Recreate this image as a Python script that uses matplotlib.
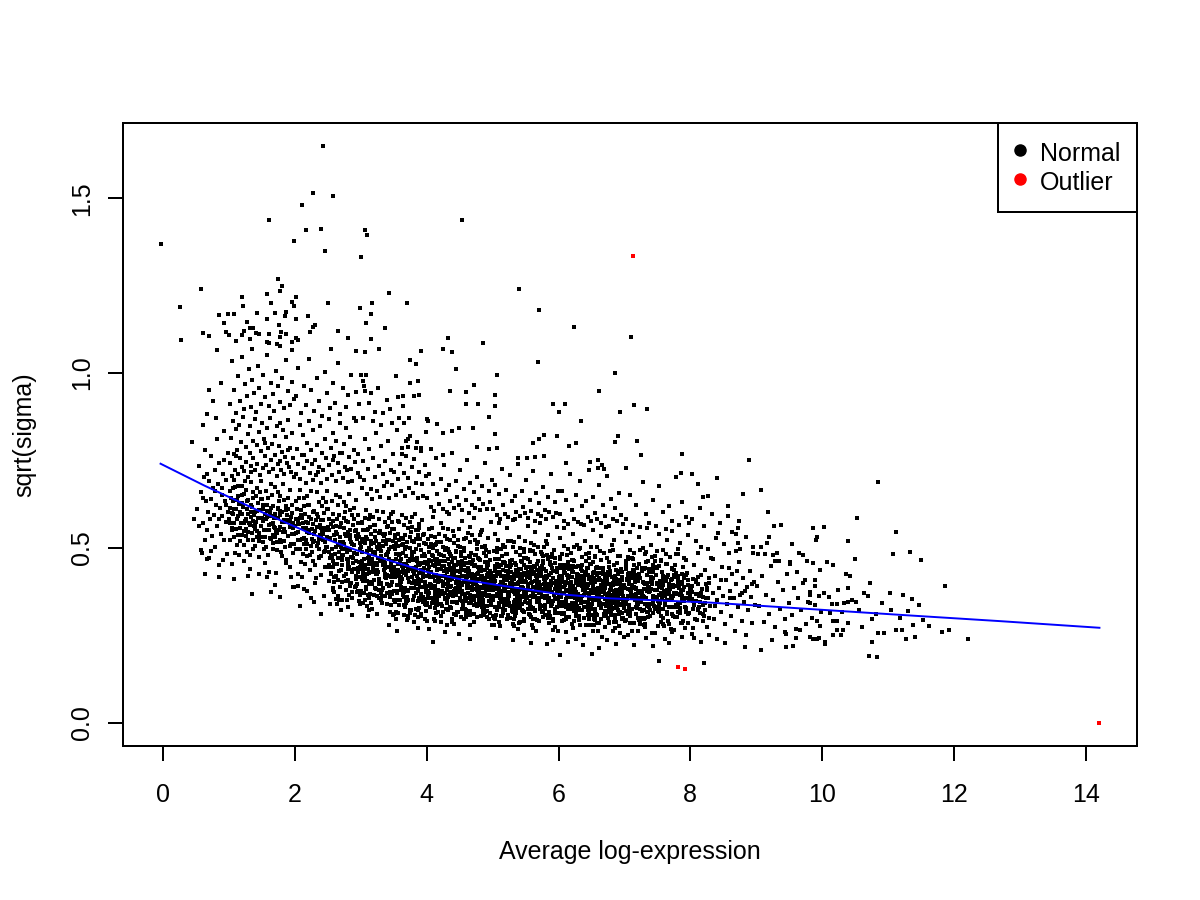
import numpy as np
import matplotlib
matplotlib.use("Agg")
import matplotlib.pyplot as plt
from matplotlib.lines import Line2D

plt.rcParams['font.family'] = ['Liberation Sans', 'DejaVu Sans']

# ---------------- data (x = average log-expression, y = sqrt(sigma)) ----------------
# individually read sparse points, upper area
high_sparse = """
2.43,1.649 2.28,1.516 2.58,1.507 2.11,1.481 1.60,1.437 2.16,1.410 2.40,1.413 3.07,1.410 3.10,1.396 1.99,1.379
-0.04,1.368 2.45,1.350 3.00,1.333 1.75,1.268 1.81,1.249 0.57,1.239 1.78,1.236 3.43,1.230 1.57,1.227 1.19,1.218
2.01,1.217 1.96,1.202 1.63,1.199 2.50,1.199 3.17,1.200 3.70,1.200 0.26,1.190 1.21,1.191 1.99,1.193 2.99,1.185
0.85,1.165 0.99,1.170 1.07,1.170 1.43,1.173 1.69,1.171 1.86,1.175 1.85,1.162 2.20,1.164 2.02,1.155 1.57,1.156
3.16,1.170 0.93,1.143 1.27,1.147 1.76,1.137 2.31,1.137 2.28,1.132 3.08,1.143 3.37,1.130 1.31,1.130 1.37,1.129
0.60,1.116 0.69,1.105 0.96,1.118 1.00,1.108 1.22,1.120 1.19,1.108 1.41,1.116 1.45,1.113 1.60,1.111 1.79,1.118
1.86,1.113 1.78,1.104 2.23,1.118 2.66,1.121 0.27,1.096 1.11,1.091 1.32,1.098 1.58,1.089 1.61,1.085 1.73,1.082
1.78,1.077 1.95,1.089 2.02,1.100 2.05,1.096 2.81,1.100 3.16,1.098 0.82,1.067 1.35,1.069 1.96,1.067 2.54,1.070
3.28,1.069 2.92,1.062 3.07,1.060 3.91,1.064
4.53,1.438 5.40,1.239 5.71,1.179 6.24,1.132 7.10,1.104 4.33,1.100 4.86,1.085 4.24,1.070 4.39,1.059
"""

mid_sparse = """
6.86,1.000 6.62,.950 7.15,.909 7.35,.897 6.94,.888 6.34,.864 6.90,.819 6.85,.802 7.19,.807 7.25,.766
7.88,.770 8.89,.753 6.48,.746 6.60,.751 6.60,.730 6.69,.727 7.03,.730
3.75,1.037 3.84,1.025 5.69,1.033 4.45,1.013 5.06,.996 3.74,.971 3.87,.977 4.72,.965 4.36,.950 4.59,.947
5.03,.938 3.64,.934 3.81,.934 3.88,.936 3.64,.907 4.60,.911 4.78,.911 5.03,.906 5.91,.911 6.10,.911
6.01,.889 4.95,.874 3.73,.873 3.66,.858 4.00,.869 4.02,.863 4.15,.855 3.99,.832 4.24,.830 4.38,.834
4.49,.844 4.70,.844 5.03,.826 3.72,.813 3.69,.807 5.78,.822 5.98,.820 5.70,.811 5.62,.801 6.27,.801
3.72,.788 3.84,.787 3.92,.787 4.06,.782 4.77,.788 4.94,.783 5.07,.785 3.63,.770 4.25,.765 6.16,.793
5.39,.758 5.52,.758 5.65,.759 5.78,.762 7.86,.714 8.02,.713 8.12,.683 8.40,.701
"""

right_tail = """
9.07,.665 8.80,.653 8.27,.650 8.19,.646 10.85,.689 9.18,.604 10.53,.587 8.57,.592 8.74,.576 9.27,.564
9.38,.565 9.86,.556 10.03,.559 11.12,.546 9.93,.532 9.91,.523 10.39,.520 9.19,.532 9.17,.515 8.84,.532
8.69,.540 8.72,.556 8.73,.513 8.95,.503 8.75,.498 11.07,.483 11.33,.489 11.50,.467 9.65,.485 9.71,.481
8.95,.485 9.03,.484 9.14,.482 9.25,.481 10.50,.469 9.28,.464 9.34,.463 9.51,.459 9.51,.453 9.86,.456
10.08,.461 10.16,.451 9.62,.432 9.97,.438 10.37,.427 10.42,.420 11.87,.392 11.03,.370 11.23,.367 10.73,.401
10.69,.364 10.39,.385 9.90,.410 9.90,.390 9.74,.409 10.10,.359 9.82,.366 9.82,.342 10.15,.340 10.22,.339
10.33,.344 10.39,.346 10.52,.345 11.47,.337 11.30,.321 10.76,.298 10.61,.275 10.40,.287 11.53,.293 10.17,.291
10.23,.292 10.32,.266 10.23,.267 10.29,.251 10.17,.252 9.97,.278 9.95,.242 10.05,.231 10.05,.225 9.81,.247
9.86,.239 9.92,.241 10.76,.230 10.85,.258 10.94,.256 11.12,.266 11.21,.266 11.38,.279 11.27,.240 11.41,.245
11.82,.261 12.22,.239 10.71,.190 10.83,.188 9.66,.266 9.46,.254 9.61,.242 9.45,.218 9.56,.221 9.07,.209
8.21,.170 8.83,.216
10.03,.372 10.12,.314 10.24,.381 10.31,.318 10.45,.352 10.56,.322 10.64,.371 10.82,.312 10.91,.344 11.05,.322
11.18,.301 11.36,.355 11.62,.278 11.92,.265
"""

low_edge = """
7.53,.178 6.02,.194 6.51,.197
0.85,.416 1.08,.412 1.28,.419 1.46,.426 1.57,.416 1.35,.368 1.64,.374 1.78,.359 2.08,.333 2.40,.310
2.87,.309 3.11,.307 3.43,.279 3.55,.263 4.10,.231 4.03,.269 3.87,.272 4.65,.241 4.49,.253 4.28,.260
0.59,.487 0.66,.469 0.91,.466 2.70,.322 3.13,.323 3.49,.308 3.70,.294 2.29,.347 2.63,.353 2.14,.382
1.94,.417 1.69,.394 1.97,.389
"""

cloud_0_1 = """
0.52,.612 0.55,.734 0.57,.493 0.58,.661 0.60,.853 0.61,.571 0.62,.702 0.63,.524 0.64,.781 0.65,.633
0.66,.552 0.67,.884 0.68,.604 0.69,.472 0.70,.693 0.71,.583 0.72,.762 0.73,.641 0.74,.533 0.75,.921
0.76,.672 0.77,.594 0.78,.502 0.79,.724 0.80,.623 0.81,.812 0.82,.563 0.83,.684 0.84,.452 0.85,.743
0.86,.614 0.87,.541 0.88,.972 0.89,.652 0.90,.591 0.91,.713 0.92,.522 0.93,.834 0.94,.633 0.95,.574
0.96,.694 0.97,.483 0.98,.771 0.99,.604 0.60,.644 0.66,.712 0.72,.491 0.78,.663 0.84,.582 0.90,.672
0.96,.623 0.54,.562 0.70,.951 0.80,.873 0.92,.752 0.63,.425 0.47,.583 0.43,.802
"""

cloud_1_2 = """
1.02,.912 1.05,1.034 1.08,.953 1.11,.886 1.13,.992 1.16,.921 1.19,1.047 1.22,.897 1.24,.968 1.27,.935
1.30,1.012 1.33,.902 1.35,.981 1.38,.944 1.41,.889 1.44,1.021 1.46,.958 1.49,.913 1.52,.996 1.55,.931
1.57,1.053 1.60,.905 1.63,.973 1.66,.941 1.68,.892 1.71,1.006 1.74,.962 1.77,.918 1.80,.985 1.83,.899
1.86,1.038 1.89,.949 1.92,.909 1.95,.976 1.98,.926
1.01,.742 1.03,.815 1.04,.706 1.06,.862 1.07,.768 1.09,.724 1.10,.839 1.12,.781 1.14,.712 1.15,.853
1.17,.756 1.18,.802 1.20,.731 1.21,.874 1.23,.719 1.25,.789 1.26,.746 1.28,.826 1.29,.703 1.31,.771
1.32,.848 1.34,.735 1.36,.807 1.37,.758 1.39,.869 1.40,.722 1.42,.794 1.43,.741 1.45,.831 1.47,.709
1.48,.776 1.50,.857 1.51,.728 1.53,.812 1.54,.763 1.56,.737 1.58,.843 1.59,.785 1.61,.716 1.62,.872
1.64,.752 1.65,.798 1.67,.727 1.69,.821 1.70,.767 1.72,.705 1.73,.849 1.75,.739 1.76,.792 1.78,.858
1.79,.723 1.81,.774 1.82,.836 1.84,.711 1.85,.761 1.87,.817 1.88,.744 1.90,.866 1.91,.731 1.93,.787
1.94,.718 1.96,.829 1.97,.757 1.99,.703 1.11,.764 1.33,.718 1.55,.801 1.77,.749 1.89,.779
1.00,.583 1.03,.642 1.07,.531 1.10,.612 1.13,.677 1.17,.556 1.20,.598 1.23,.463 1.27,.634 1.30,.571
1.33,.689 1.37,.522 1.40,.604 1.43,.548 1.47,.661 1.50,.587 1.53,.497 1.57,.623 1.60,.566 1.63,.683
1.67,.514 1.70,.597 1.73,.542 1.77,.648 1.80,.476 1.83,.579 1.87,.621 1.90,.535 1.93,.667 1.97,.558
1.02,.662 1.05,.551 1.08,.694 1.12,.508 1.15,.627 1.18,.572 1.22,.653 1.25,.534 1.28,.596 1.32,.441
1.35,.618 1.38,.563 1.42,.672 1.45,.519 1.48,.641 1.52,.578 1.55,.456 1.58,.606 1.62,.529 1.65,.652
1.68,.587 1.72,.493 1.75,.615 1.78,.561 1.82,.684 1.85,.502 1.88,.594 1.92,.447 1.95,.623 1.98,.541
1.01,.524 1.04,.601 1.06,.672 1.09,.487 1.12,.583 1.14,.648 1.19,.538 1.21,.616 1.24,.692 1.26,.553
1.29,.636 1.31,.479 1.34,.589 1.36,.661 1.39,.505 1.41,.573 1.44,.628 1.46,.543 1.49,.691 1.51,.517
1.54,.598 1.56,.664 1.59,.481 1.61,.552 1.64,.613 1.66,.537 1.69,.674 1.71,.428 1.74,.586 1.76,.633
1.79,.517 1.81,.602 1.84,.553 1.86,.466 1.89,.642 1.91,.577 1.94,.512 1.96,.601 1.99,.389 1.02,.571
1.05,.453 1.09,.636 1.11,.554 1.16,.603 1.19,.677 1.23,.509 1.26,.582 1.29,.547 1.34,.624 1.36,.498
1.40,.566 1.43,.607 1.46,.474 1.50,.639 1.53,.552 1.57,.588 1.60,.431 1.64,.569 1.67,.621 1.71,.546
1.74,.659 1.77,.524 1.80,.573 1.84,.638 1.87,.458 1.90,.611 1.93,.561 1.97,.487 1.06,.597 1.13,.538
1.20,.651 1.27,.489 1.35,.543 1.41,.649 1.48,.531 1.56,.502 1.63,.592 1.70,.531 1.78,.606 1.85,.546
1.92,.579 1.08,.612 1.22,.572 1.38,.594 1.52,.612 1.68,.559 1.83,.521 1.96,.568 1.15,.481 1.45,.586
"""

cloud_2_3 = """
2.02,.934 2.05,1.015 2.09,.887 2.13,.962 2.17,.908 2.21,1.041 2.25,.951 2.29,.893 2.33,.987 2.37,.921
2.41,.876 2.45,1.003 2.49,.942 2.53,.899 2.57,.971 2.61,.915 2.65,1.028 2.69,.884 2.73,.956 2.77,.903
2.81,.938 2.85,.995 2.89,.872 2.93,.947 2.97,.913 3.00,.994 3.03,.978 3.05,.963 3.07,.949
2.01,.712 2.03,.784 2.05,.741 2.07,.853 2.08,.698 2.10,.766 2.12,.823 2.14,.729 2.16,.687 2.18,.801
2.19,.748 2.21,.862 2.23,.715 2.25,.779 2.27,.694 2.28,.836 2.30,.752 2.32,.708 2.34,.794 2.36,.733
2.38,.849 2.39,.686 2.41,.771 2.43,.722 2.45,.813 2.47,.757 2.49,.696 2.51,.868 2.52,.737 2.54,.785
2.56,.709 2.58,.829 2.60,.762 2.62,.691 2.63,.806 2.65,.744 2.67,.718 2.69,.857 2.71,.773 2.73,.701
2.74,.796 2.76,.731 2.78,.842 2.80,.689 2.82,.759 2.84,.817 2.85,.726 2.87,.693 2.89,.781 2.91,.747
2.93,.864 2.95,.714 2.96,.769 2.98,.704 2.13,.767 2.35,.716 2.57,.752 2.79,.724 2.26,.739 2.68,.773
2.00,.563 2.03,.612 2.07,.498 2.10,.587 2.13,.642 2.17,.524 2.20,.571 2.23,.436 2.27,.603 2.30,.548
2.33,.661 2.37,.497 2.40,.579 2.43,.523 2.47,.631 2.50,.561 2.53,.472 2.57,.597 2.60,.538 2.63,.652
2.67,.489 2.70,.571 2.73,.516 2.77,.619 2.80,.452 2.83,.552 2.87,.593 2.90,.508 2.93,.637 2.97,.531
2.02,.634 2.05,.524 2.08,.667 2.12,.483 2.15,.598 2.18,.545 2.22,.623 2.25,.507 2.28,.568 2.32,.415
2.35,.589 2.38,.536 2.42,.643 2.45,.491 2.48,.612 2.52,.551 2.55,.429 2.58,.578 2.62,.502 2.65,.624
2.68,.559 2.72,.466 2.75,.587 2.78,.533 2.82,.655 2.85,.474 2.88,.566 2.92,.421 2.95,.594 2.98,.513
2.01,.497 2.04,.574 2.06,.643 2.09,.461 2.12,.556 2.14,.619 2.19,.511 2.21,.588 2.24,.664 2.26,.526
2.29,.607 2.31,.452 2.34,.561 2.36,.632 2.39,.478 2.41,.545 2.44,.599 2.46,.516 2.49,.662 2.51,.489
2.54,.569 2.56,.635 2.59,.454 2.61,.524 2.64,.584 2.66,.509 2.69,.645 2.71,.402 2.74,.557 2.76,.603
2.79,.489 2.81,.573 2.84,.525 2.86,.438 2.89,.613 2.91,.548 2.94,.484 2.96,.572 2.99,.366 2.02,.544
2.05,.426 2.09,.608 2.11,.527 2.16,.575 2.19,.648 2.23,.481 2.26,.554 2.29,.519 2.34,.596 2.36,.471
2.40,.538 2.43,.579 2.46,.447 2.50,.611 2.53,.525 2.57,.561 2.60,.404 2.64,.541 2.67,.593 2.71,.518
2.74,.631 2.77,.496 2.80,.545 2.84,.609 2.87,.431 2.90,.583 2.93,.533 2.97,.459 2.06,.569 2.13,.511
2.20,.623 2.27,.462 2.35,.515 2.41,.621 2.48,.503 2.56,.474 2.63,.564 2.70,.503 2.78,.578 2.85,.518
2.92,.551 2.08,.585 2.22,.544 2.38,.566 2.52,.584 2.68,.531 2.83,.493 2.96,.540 2.15,.453 2.45,.558
2.04,.392 2.18,.378 2.31,.401 2.44,.364 2.58,.386 2.72,.352 2.86,.374 2.99,.341 2.11,.417 2.25,.358
2.39,.422 2.53,.339 2.66,.409 2.80,.331 2.94,.398
"""

cloud_3_4 = """
3.04,.871 3.12,.915 3.19,.862 3.26,.958 3.33,.887 3.40,.924 3.47,.856 3.53,.991 3.58,.873 3.08,.996
3.16,.943 3.30,.852 3.44,.898 3.56,.931 3.22,.890
3.01,.672 3.03,.748 3.05,.694 3.07,.811 3.09,.653 3.11,.727 3.13,.782 3.15,.668 3.17,.641 3.19,.756
3.21,.703 3.23,.829 3.25,.662 3.27,.734 3.29,.647 3.31,.791 3.33,.712 3.35,.676 3.37,.749 3.39,.689
3.41,.806 3.43,.644 3.45,.723 3.47,.681 3.49,.768 3.51,.718 3.53,.652 3.55,.838 3.57,.697 3.59,.741
3.61,.663 3.63,.787 3.65,.714 3.67,.648 3.69,.762 3.71,.699 3.73,.671 3.75,.819 3.77,.731 3.79,.657
3.81,.754 3.83,.686 3.85,.802 3.87,.643 3.89,.717 3.91,.778 3.93,.682 3.95,.649 3.97,.738 3.99,.706
3.00,.503 3.03,.552 3.07,.441 3.10,.527 3.13,.582 3.17,.468 3.20,.514 3.23,.384 3.27,.544 3.30,.491
3.33,.603 3.37,.442 3.40,.522 3.43,.468 3.47,.573 3.50,.505 3.53,.419 3.57,.541 3.60,.483 3.63,.594
3.67,.435 3.70,.516 3.73,.462 3.77,.561 3.80,.401 3.83,.496 3.87,.536 3.90,.454 3.93,.579 3.97,.476
3.02,.575 3.05,.468 3.08,.608 3.12,.429 3.15,.541 3.18,.489 3.22,.566 3.25,.452 3.28,.512 3.32,.363
3.35,.533 3.38,.481 3.42,.585 3.45,.437 3.48,.555 3.52,.496 3.55,.377 3.58,.522 3.62,.448 3.65,.566
3.68,.503 3.72,.413 3.75,.531 3.78,.478 3.82,.597 3.85,.421 3.88,.510 3.92,.369 3.95,.538 3.98,.458
3.01,.441 3.04,.517 3.06,.585 3.09,.406 3.12,.499 3.14,.561 3.19,.456 3.21,.531 3.24,.606 3.26,.471
3.29,.550 3.31,.398 3.34,.505 3.36,.574 3.39,.424 3.41,.489 3.44,.542 3.46,.461 3.49,.604 3.51,.434
3.54,.513 3.56,.577 3.59,.399 3.61,.468 3.64,.527 3.66,.454 3.69,.587 3.71,.352 3.74,.501 3.76,.546
3.79,.434 3.81,.516 3.84,.469 3.86,.384 3.89,.556 3.91,.493 3.94,.429 3.96,.515 3.99,.321 3.02,.488
3.05,.372 3.09,.551 3.11,.472 3.16,.519 3.19,.589 3.23,.426 3.26,.498 3.29,.463 3.34,.539 3.36,.416
3.40,.482 3.43,.522 3.46,.393 3.50,.554 3.53,.469 3.57,.505 3.60,.352 3.64,.485 3.67,.536 3.71,.463
3.74,.573 3.77,.441 3.80,.489 3.84,.552 3.87,.377 3.90,.526 3.93,.478 3.97,.404 3.06,.513 3.13,.455
3.20,.566 3.27,.407 3.35,.459 3.41,.563 3.48,.447 3.56,.419 3.63,.508 3.70,.448 3.78,.521 3.85,.462
3.92,.495 3.08,.529 3.22,.489 3.38,.511 3.52,.528 3.68,.476 3.83,.438 3.96,.484 3.15,.398 3.45,.502
3.03,.342 3.17,.327 3.31,.351 3.44,.318 3.58,.336 3.72,.306 3.86,.324 3.98,.296 3.11,.366 3.25,.311
3.39,.372 3.53,.298 3.66,.359 3.80,.289 3.94,.347
"""

cloud_4_5 = """
4.01,.642 4.04,.711 4.06,.618 4.09,.683 4.11,.607 4.14,.756 4.16,.654 4.19,.627 4.21,.697 4.24,.612
4.26,.738 4.29,.665 4.31,.604 4.34,.679 4.36,.633 4.39,.771 4.41,.615 4.44,.692 4.46,.646 4.49,.623
4.51,.724 4.54,.609 4.56,.668 4.59,.637 4.61,.751 4.64,.601 4.66,.686 4.69,.622 4.71,.659 4.74,.614
4.76,.703 4.79,.639 4.81,.608 4.84,.677 4.86,.626 4.89,.742 4.91,.611 4.94,.662 4.96,.631 4.99,.694
4.00,.453 4.03,.502 4.07,.391 4.10,.477 4.13,.532 4.17,.418 4.20,.464 4.23,.334 4.27,.494 4.30,.441
4.33,.553 4.37,.392 4.40,.472 4.43,.418 4.47,.523 4.50,.455 4.53,.369 4.57,.491 4.60,.433 4.63,.544
4.67,.385 4.70,.466 4.73,.412 4.77,.511 4.80,.351 4.83,.446 4.87,.486 4.90,.404 4.93,.529 4.97,.426
4.02,.525 4.05,.418 4.08,.558 4.12,.379 4.15,.491 4.18,.439 4.22,.516 4.25,.402 4.28,.462 4.32,.323
4.35,.483 4.38,.431 4.42,.535 4.45,.387 4.48,.505 4.52,.446 4.55,.337 4.58,.472 4.62,.398 4.65,.516
4.68,.453 4.72,.363 4.75,.481 4.78,.428 4.82,.547 4.85,.371 4.88,.460 4.92,.319 4.95,.488 4.98,.408
4.01,.391 4.04,.467 4.06,.535 4.09,.356 4.12,.449 4.14,.511 4.19,.406 4.21,.481 4.24,.556 4.26,.421
4.29,.500 4.31,.348 4.34,.455 4.36,.524 4.39,.374 4.41,.439 4.44,.492 4.46,.411 4.49,.554 4.51,.384
4.54,.463 4.56,.527 4.59,.349 4.61,.418 4.64,.477 4.66,.404 4.69,.537 4.71,.312 4.74,.451 4.76,.496
4.79,.384 4.81,.466 4.84,.419 4.86,.334 4.89,.506 4.91,.443 4.94,.379 4.96,.465 4.99,.281 4.02,.438
4.05,.332 4.09,.501 4.11,.422 4.16,.469 4.19,.539 4.23,.376 4.26,.448 4.29,.413 4.34,.489 4.36,.366
4.40,.432 4.43,.472 4.46,.343 4.50,.504 4.53,.419 4.57,.455 4.60,.302 4.64,.435 4.67,.486 4.71,.413
4.74,.523 4.77,.391 4.80,.439 4.84,.502 4.87,.327 4.90,.476 4.93,.428 4.97,.354 4.06,.463 4.13,.405
4.20,.516 4.27,.357 4.35,.409 4.41,.513 4.48,.397 4.56,.369 4.63,.458 4.70,.398 4.78,.471 4.85,.412
4.92,.445 4.08,.479 4.22,.439 4.38,.461 4.52,.478 4.68,.426 4.83,.388 4.96,.434 4.15,.348 4.45,.452
4.03,.356 4.17,.379 4.31,.342 4.44,.365 4.58,.326 4.72,.351 4.86,.308 4.98,.337 4.11,.297 4.25,.368
4.39,.289 4.53,.349 4.66,.281 4.80,.362 4.94,.296 4.07,.418 4.21,.372 4.33,.401 4.47,.318 4.61,.386
4.75,.339 4.89,.371 4.99,.382 4.13,.329 4.42,.311
"""

cloud_5_6 = """
5.01,.612 5.04,.681 5.06,.594 5.09,.653 5.11,.583 5.14,.726 5.16,.624 5.19,.597 5.21,.667 5.24,.588
5.26,.708 5.29,.635 5.31,.581 5.34,.649 5.36,.603 5.39,.741 5.41,.591 5.44,.662 5.46,.616 5.49,.599
5.51,.694 5.54,.585 5.56,.638 5.59,.607 5.61,.721 5.64,.578 5.66,.656 5.69,.598 5.71,.629 5.74,.591
5.76,.673 5.79,.609 5.81,.584 5.84,.647 5.86,.602 5.89,.712 5.91,.588 5.94,.632 5.96,.601 5.99,.664
5.00,.421 5.03,.468 5.07,.362 5.10,.446 5.13,.497 5.17,.388 5.20,.433 5.23,.309 5.27,.462 5.30,.411
5.33,.517 5.37,.364 5.40,.441 5.43,.389 5.47,.489 5.50,.424 5.53,.342 5.57,.459 5.60,.403 5.63,.509
5.67,.357 5.70,.435 5.73,.383 5.77,.478 5.80,.326 5.83,.416 5.87,.454 5.90,.375 5.93,.494 5.97,.397
5.02,.491 5.05,.388 5.08,.523 5.12,.352 5.15,.459 5.18,.409 5.22,.483 5.25,.373 5.28,.431 5.32,.298
5.35,.451 5.38,.401 5.42,.501 5.45,.359 5.48,.472 5.52,.416 5.55,.312 5.58,.441 5.62,.369 5.65,.483
5.68,.422 5.72,.337 5.75,.449 5.78,.398 5.82,.512 5.85,.345 5.88,.429 5.92,.294 5.95,.456 5.98,.379
5.01,.364 5.04,.436 5.06,.501 5.09,.331 5.12,.419 5.14,.478 5.19,.378 5.21,.449 5.24,.521 5.26,.392
5.29,.467 5.31,.323 5.34,.425 5.36,.490 5.39,.347 5.41,.409 5.44,.459 5.46,.383 5.49,.519 5.51,.357
5.54,.432 5.56,.493 5.59,.325 5.61,.389 5.64,.445 5.66,.376 5.69,.503 5.71,.291 5.74,.421 5.76,.463
5.79,.357 5.81,.435 5.84,.391 5.86,.311 5.89,.473 5.91,.413 5.94,.353 5.96,.434 5.99,.262 5.02,.408
5.05,.309 5.09,.468 5.11,.393 5.16,.437 5.19,.504 5.23,.351 5.26,.418 5.29,.385 5.34,.457 5.36,.341
5.40,.403 5.43,.441 5.46,.319 5.50,.471 5.53,.391 5.57,.425 5.60,.281 5.64,.406 5.67,.454 5.71,.385
5.74,.489 5.77,.364 5.80,.409 5.84,.469 5.87,.305 5.90,.444 5.93,.399 5.97,.331 5.06,.432 5.13,.377
5.20,.482 5.27,.333 5.35,.381 5.41,.479 5.48,.371 5.56,.344 5.63,.427 5.70,.371 5.78,.439 5.85,.384
5.92,.415 5.08,.447 5.22,.409 5.38,.430 5.52,.446 5.68,.397 5.83,.362 5.96,.405 5.15,.325 5.45,.422
5.03,.331 5.17,.353 5.31,.318 5.44,.341 5.58,.304 5.72,.327 5.86,.287 5.98,.314 5.11,.276 5.25,.343
5.39,.268 5.53,.325 5.66,.262 5.80,.337 5.94,.275 5.07,.389 5.21,.346 5.33,.374 5.47,.296 5.61,.359
5.75,.316 5.89,.346 5.99,.356 5.13,.306 5.42,.289
5.05,.243 5.31,.236 5.58,.229 5.82,.225 5.47,.251 5.91,.238
"""

cloud_6_7 = """
6.02,.597 6.05,.664 6.08,.578 6.11,.638 6.14,.569 6.17,.712 6.20,.609 6.23,.583 6.26,.651 6.29,.574
6.32,.693 6.35,.619 6.38,.566 6.41,.635 6.44,.588 6.47,.724 6.50,.576 6.53,.647 6.56,.601 6.59,.584
6.62,.679 6.65,.571 6.68,.623 6.71,.592 6.74,.705 6.77,.563 6.80,.641 6.83,.584 6.86,.615 6.89,.577
6.92,.658 6.95,.594 6.98,.569 6.12,.744 6.66,.736
6.00,.404 6.03,.451 6.07,.345 6.10,.429 6.13,.480 6.17,.371 6.20,.416 6.23,.292 6.27,.445 6.30,.394
6.33,.500 6.37,.347 6.40,.424 6.43,.372 6.47,.472 6.50,.407 6.53,.325 6.57,.442 6.60,.386 6.63,.492
6.67,.340 6.70,.418 6.73,.366 6.77,.461 6.80,.309 6.83,.399 6.87,.437 6.90,.358 6.93,.477 6.97,.380
6.02,.474 6.05,.371 6.08,.506 6.12,.335 6.15,.442 6.18,.392 6.22,.466 6.25,.356 6.28,.414 6.32,.281
6.35,.434 6.38,.384 6.42,.484 6.45,.342 6.48,.455 6.52,.399 6.55,.295 6.58,.424 6.62,.352 6.65,.466
6.68,.405 6.72,.320 6.75,.432 6.78,.381 6.82,.495 6.85,.328 6.88,.412 6.92,.277 6.95,.439 6.98,.362
6.01,.347 6.04,.419 6.06,.484 6.09,.314 6.12,.402 6.14,.461 6.19,.361 6.21,.432 6.24,.504 6.26,.375
6.29,.450 6.31,.306 6.34,.408 6.36,.473 6.39,.330 6.41,.392 6.44,.442 6.46,.366 6.49,.502 6.51,.340
6.54,.415 6.56,.476 6.59,.308 6.61,.372 6.64,.428 6.66,.359 6.69,.486 6.71,.274 6.74,.404 6.76,.446
6.79,.340 6.81,.418 6.84,.374 6.86,.294 6.89,.456 6.91,.396 6.94,.336 6.96,.417 6.99,.245 6.02,.391
6.05,.292 6.09,.451 6.11,.376 6.16,.420 6.19,.487 6.23,.334 6.26,.401 6.29,.368 6.34,.440 6.36,.324
6.40,.386 6.43,.424 6.46,.302 6.50,.454 6.53,.374 6.57,.408 6.60,.264 6.64,.389 6.67,.437 6.71,.368
6.74,.472 6.77,.347 6.80,.392 6.84,.452 6.87,.288 6.90,.427 6.93,.382 6.97,.314 6.06,.415 6.13,.360
6.20,.465 6.27,.316 6.35,.364 6.41,.462 6.48,.354 6.56,.327 6.63,.410 6.70,.354 6.78,.422 6.85,.367
6.92,.398 6.08,.430 6.22,.392 6.38,.413 6.52,.429 6.68,.380 6.83,.345 6.96,.388
6.03,.314 6.17,.336 6.31,.301 6.44,.324 6.58,.287 6.72,.310 6.86,.270 6.98,.297 6.11,.259 6.25,.326
6.39,.251 6.53,.308 6.66,.245 6.80,.320 6.94,.258 6.07,.372 6.21,.329 6.33,.357 6.47,.279 6.61,.342
6.75,.299 6.89,.329
6.15,.231 6.37,.222 6.62,.215 6.88,.226 6.27,.240 6.74,.236
"""

cloud_7_8 = """
7.03,.584 7.08,.651 7.13,.567 7.18,.623 7.23,.559 7.28,.689 7.33,.596 7.38,.571 7.43,.637 7.48,.562
7.53,.678 7.58,.604 7.63,.555 7.68,.619 7.73,.578 7.78,.702 7.83,.566 7.88,.631 7.93,.588 7.98,.571
7.00,.394 7.03,.441 7.07,.337 7.10,.419 7.13,.470 7.17,.362 7.20,.406 7.23,.284 7.27,.435 7.30,.384
7.33,.489 7.37,.339 7.40,.414 7.43,.363 7.47,.462 7.50,.397 7.53,.317 7.57,.432 7.60,.377 7.63,.482
7.67,.332 7.70,.408 7.73,.357 7.77,.451 7.80,.302 7.83,.389 7.87,.427 7.90,.349 7.93,.467 7.97,.371
7.02,.462 7.05,.362 7.08,.494 7.12,.327 7.15,.431 7.18,.383 7.22,.455 7.25,.347 7.28,.404 7.32,.274
7.35,.424 7.38,.375 7.42,.473 7.45,.334 7.48,.445 7.52,.390 7.55,.288 7.58,.414 7.62,.344 7.65,.455
7.68,.396 7.72,.312 7.75,.422 7.78,.372 7.82,.484 7.85,.320 7.88,.402 7.92,.271 7.95,.429 7.98,.354
7.01,.339 7.04,.409 7.06,.473 7.09,.307 7.12,.393 7.14,.451 7.19,.353 7.21,.422 7.24,.493 7.26,.367
7.29,.440 7.31,.299 7.34,.399 7.36,.462 7.39,.323 7.41,.383 7.44,.432 7.46,.358 7.49,.491 7.51,.332
7.54,.406 7.56,.466 7.59,.301 7.61,.364 7.64,.418 7.66,.351 7.69,.475 7.71,.268 7.74,.395 7.76,.436
7.79,.332 7.81,.409 7.84,.366 7.86,.287 7.89,.446 7.91,.388 7.94,.329 7.96,.408 7.06,.382 7.09,.285
7.16,.411 7.23,.326 7.29,.360 7.36,.317 7.43,.415 7.50,.443 7.57,.399 7.64,.380 7.71,.360 7.06,.250
7.33,.243 7.61,.239 7.87,.246 7.20,.262 7.47,.258 7.75,.266 7.15,.224 7.44,.219 7.68,.228
"""

cloud_8_10 = """
8.02,.391 8.04,.325 8.06,.452 8.08,.368 8.10,.294 8.12,.417 8.14,.347 8.16,.503 8.18,.382 8.20,.311
8.22,.436 8.24,.358 8.26,.273 8.28,.401 8.30,.334 8.32,.472 8.34,.372 8.36,.298 8.38,.421 8.40,.351
8.42,.542 8.44,.386 8.46,.318 8.48,.446 8.50,.363 8.52,.283 8.54,.409 8.56,.341 8.58,.487 8.60,.376
8.62,.305 8.64,.427 8.66,.356 8.68,.262 8.70,.398 8.72,.331 8.74,.461 8.76,.366 8.78,.292 8.80,.414
8.82,.346 8.84,.251 8.86,.389 8.88,.323 8.90,.435 8.92,.359 8.94,.287 8.96,.402 8.98,.338 8.03,.583
8.09,.521 8.15,.614 8.21,.562 8.27,.498 8.33,.597 8.39,.529 8.45,.572 8.51,.512 8.57,.621 8.63,.547
8.69,.492 8.05,.244 8.17,.232 8.29,.251 8.41,.239 8.53,.228 8.11,.485 8.35,.469 8.47,.408 8.59,.444
8.71,.435 8.83,.376 8.13,.362 8.25,.387 8.37,.333 8.61,.356 8.79,.371 8.93,.397
9.02,.392 9.05,.334 9.09,.421 9.12,.288 9.15,.367 9.19,.312 9.22,.448 9.26,.351 9.29,.273 9.33,.402
9.36,.326 9.40,.379 9.43,.296 9.47,.425 9.50,.343 9.54,.308 9.57,.387 9.61,.269 9.64,.358 9.68,.322
9.71,.401 9.75,.284 9.78,.347 9.82,.374 9.85,.301 9.89,.336 9.92,.292 9.96,.362 9.99,.318 9.08,.502
9.31,.486 9.55,.512 9.77,.462 9.24,.236 9.44,.261
"""

# additional points of the saturated core
core_2_4 = """
2.51,.452 2.56,.497 2.60,.418 2.65,.471 2.70,.436 2.75,.512 2.80,.463 2.85,.401 2.90,.487 2.95,.442
3.00,.377 3.05,.468 3.10,.425 3.15,.493 3.20,.409 3.25,.456 3.30,.372 3.35,.438 3.40,.481 3.45,.416
3.50,.447 3.55,.395 3.60,.462 3.65,.428 3.70,.359 3.75,.443 3.80,.406 3.85,.471 3.90,.389 3.95,.433
2.53,.528 2.58,.447 2.63,.502 2.68,.389 2.73,.481 2.78,.427 2.83,.536 2.88,.456 2.93,.412 2.98,.497
3.03,.431 3.08,.384 3.13,.476 3.18,.442 3.23,.519 3.28,.396 3.33,.452 3.38,.413 3.43,.497 3.48,.368
3.53,.437 3.58,.479 3.63,.386 3.68,.451 3.73,.402 3.78,.489 3.83,.371 3.88,.428 3.93,.457 3.98,.396
2.52,.406 2.57,.463 2.62,.547 2.67,.434 2.72,.497 2.77,.379 2.82,.446 2.87,.512 2.92,.464 2.97,.418
3.02,.526 3.07,.452 3.12,.398 3.17,.431 3.22,.483 3.27,.357 3.32,.468 3.37,.426 3.42,.391 3.47,.462
3.52,.418 3.57,.352 3.62,.432 3.67,.496 3.72,.377 3.77,.418 3.82,.443 3.87,.412 3.92,.352 3.97,.461
2.54,.481 2.59,.373 2.64,.455 2.69,.518 2.74,.421 2.79,.468 2.84,.392 2.89,.441 2.94,.526 2.99,.447
3.04,.405 3.09,.492 3.14,.368 3.19,.449 3.24,.427 3.29,.504 3.34,.387 3.39,.446 3.44,.375 3.49,.427
3.54,.484 3.59,.411 3.64,.372 3.69,.423 3.74,.468 3.79,.351 3.84,.397 3.89,.452 3.94,.418 3.99,.374
2.55,.427 2.61,.484 2.66,.362 2.71,.452 2.76,.541 2.81,.409 2.86,.475 2.91,.388 2.96,.431 3.01,.464
3.06,.352 3.11,.441 3.16,.511 3.21,.387 3.26,.432 3.31,.476 3.36,.364 3.41,.421 3.46,.448 3.51,.377
3.56,.453 3.61,.402 3.66,.336 3.71,.441 3.76,.387 3.81,.427 3.86,.349 3.91,.408 3.96,.443 3.87,.302
2.57,.381 2.71,.402 2.86,.357 3.01,.412 3.16,.342 3.31,.401 3.46,.338 3.61,.381 3.76,.322 3.91,.366
2.64,.339 2.79,.352 2.94,.373 3.09,.334 3.24,.362 3.39,.341 3.54,.318 3.69,.347 3.84,.326 3.98,.341
2.52,.446 2.57,.382 2.62,.419 2.67,.351 2.72,.478 2.77,.405 2.82,.367 2.87,.431 2.92,.392 2.97,.348
3.02,.462 3.07,.415 3.12,.356 3.17,.398 3.22,.437 3.27,.379 3.32,.342 3.37,.417 3.42,.371 3.47,.403
2.80,.441 2.84,.398 2.88,.472 2.92,.413 2.96,.376 3.00,.452 3.04,.421 3.08,.389 3.12,.466 3.16,.404
3.20,.367 3.24,.437 3.28,.412 3.32,.381 3.36,.458 3.40,.397 3.44,.359 3.48,.428
"""

core_4_5 = """
4.01,.421 4.06,.464 4.11,.392 4.16,.438 4.21,.407 4.26,.476 4.31,.431 4.36,.374 4.41,.452 4.46,.413
4.51,.352 4.56,.437 4.61,.398 4.66,.459 4.71,.382 4.76,.426 4.81,.347 4.86,.409 4.91,.448 4.96,.389
5.01,.417 5.06,.369 5.11,.431 5.16,.399 5.21,.336 5.26,.413 5.31,.378 5.36,.437 5.41,.362 5.46,.404
4.03,.489 4.08,.417 4.13,.467 4.18,.363 4.23,.448 4.28,.398 4.33,.497 4.38,.424 4.43,.384 4.48,.461
4.53,.401 4.58,.358 4.63,.442 4.68,.411 4.73,.481 4.78,.369 4.83,.421 4.88,.385 4.93,.461 4.98,.343
5.03,.407 5.08,.446 5.13,.361 5.18,.419 5.23,.374 5.28,.452 5.33,.346 5.38,.398 5.43,.425 5.48,.369
4.02,.378 4.07,.432 4.12,.508 4.17,.404 4.22,.462 4.27,.353 4.32,.416 4.37,.477 4.42,.432 4.47,.389
4.52,.488 4.57,.421 4.62,.371 4.67,.402 4.72,.449 4.77,.334 4.82,.435 4.87,.396 4.92,.364 4.97,.429
5.02,.389 5.07,.328 5.12,.402 5.17,.461 5.22,.352 5.27,.389 5.32,.412 5.37,.383 5.42,.328 5.47,.428
4.04,.447 4.09,.349 4.14,.424 4.19,.482 4.24,.392 4.29,.436 4.34,.366 4.39,.411 4.44,.489 4.49,.416
4.54,.377 4.59,.457 4.64,.343 4.69,.418 4.74,.397 4.79,.468 4.84,.361 4.89,.414 4.94,.349 4.99,.398
5.04,.449 5.09,.382 5.14,.346 5.19,.393 5.24,.434 5.29,.327 5.34,.369 5.39,.419 5.44,.388 5.49,.346
4.05,.398 4.10,.451 4.15,.338 4.20,.421 4.25,.503 4.30,.381 4.35,.442 4.40,.362 4.45,.401 4.50,.432
4.55,.328 4.60,.411 4.65,.474 4.70,.361 4.75,.403 4.80,.443 4.85,.339 4.90,.392 4.95,.417 5.00,.352
5.05,.421 5.10,.374 5.15,.313 5.20,.409 5.25,.362 5.30,.398 5.35,.326 5.40,.381 5.45,.412 5.50,.372
4.07,.356 4.21,.374 4.36,.332 4.51,.384 4.66,.319 4.81,.372 4.96,.314 5.11,.356 5.26,.301 5.41,.341
4.14,.314 4.29,.327 4.44,.346 4.59,.311 4.74,.337 4.89,.318 5.04,.296 5.19,.324 5.34,.305 5.48,.318
4.12,.291 4.42,.284 4.72,.288 5.02,.279 5.32,.276
4.18,.453 4.33,.392 4.48,.373 4.63,.421 4.78,.447 4.93,.404 5.08,.391 5.23,.428 5.38,.357 5.47,.451
"""

core_5_7 = """
5.51,.403 5.56,.446 5.61,.374 5.66,.421 5.71,.389 5.76,.458 5.81,.413 5.86,.356 5.91,.434 5.96,.395
6.01,.334 6.06,.419 6.11,.381 6.16,.441 6.21,.364 6.26,.408 6.31,.329 6.36,.391 6.41,.431 6.46,.372
6.51,.399 6.56,.352 6.61,.414 6.66,.382 6.71,.319 6.76,.396 6.81,.361 6.86,.421 6.91,.345 6.96,.387
5.53,.469 5.58,.399 5.63,.449 5.68,.345 5.73,.431 5.78,.381 5.83,.479 5.88,.406 5.93,.366 5.98,.443
6.03,.383 6.08,.341 6.13,.424 6.18,.393 6.23,.463 6.28,.352 6.33,.403 6.38,.367 6.43,.443 6.48,.326
6.53,.389 6.58,.428 6.63,.343 6.68,.401 6.73,.357 6.78,.434 6.83,.329 6.88,.381 6.93,.407 6.98,.352
5.52,.361 5.57,.414 5.62,.491 5.67,.386 5.72,.444 5.77,.335 5.82,.398 5.87,.459 5.92,.414 5.97,.371
6.02,.469 6.07,.403 6.12,.353 6.17,.384 6.22,.431 6.27,.317 6.32,.417 6.37,.379 6.42,.346 6.47,.411
6.52,.371 6.57,.311 6.62,.384 6.67,.443 6.72,.334 6.77,.371 6.82,.393 6.87,.366 6.92,.311 6.97,.409
5.54,.429 5.59,.331 5.64,.406 5.69,.464 5.74,.374 5.79,.418 5.84,.348 5.89,.393 5.94,.471 5.99,.398
6.04,.359 6.09,.439 6.14,.326 6.19,.401 6.24,.379 6.29,.449 6.34,.343 6.39,.396 6.44,.332 6.49,.379
6.54,.431 6.59,.364 6.64,.329 6.69,.375 6.74,.416 6.79,.311 6.84,.352 6.89,.401 6.94,.371 6.99,.329
5.55,.381 5.60,.433 5.65,.321 5.70,.402 5.75,.484 5.80,.363 5.85,.424 5.90,.345 5.95,.383 6.00,.413
6.05,.312 6.10,.393 6.15,.455 6.20,.344 6.25,.384 6.30,.423 6.35,.322 6.40,.374 6.45,.397 6.50,.335
6.55,.402 6.60,.357 6.65,.298 6.70,.392 6.75,.344 6.80,.379 6.85,.309 6.90,.362 6.95,.393 6.99,.354
5.57,.338 5.71,.356 5.86,.316 6.01,.364 6.16,.302 6.31,.354 6.46,.298 6.61,.338 6.76,.287 6.91,.323
5.64,.297 5.79,.309 5.94,.327 6.09,.293 6.24,.319 6.39,.301 6.54,.281 6.69,.307 6.84,.289 6.98,.301
5.62,.272 5.92,.266 6.22,.271 6.52,.262 6.82,.264
5.68,.437 5.83,.376 5.98,.356 6.13,.401 6.28,.426 6.43,.386 6.58,.373 6.73,.408 6.88,.341 6.97,.431
"""

core_7_8 = """
7.01,.385 7.06,.427 7.11,.358 7.16,.403 7.21,.372 7.26,.438 7.31,.396 7.36,.341 7.41,.416 7.46,.379
7.51,.321 7.56,.401 7.61,.365 7.66,.423 7.71,.351 7.76,.392 7.81,.318 7.86,.375 7.91,.413 7.96,.357
8.01,.382 8.06,.337 8.11,.396 8.16,.366 8.21,.306 8.26,.379
7.03,.451 7.08,.382 7.13,.431 7.18,.331 7.23,.413 7.28,.364 7.33,.459 7.38,.389 7.43,.351 7.48,.424
7.53,.366 7.58,.326 7.63,.406 7.68,.376 7.73,.443 7.78,.338 7.83,.386 7.88,.352 7.93,.424 7.98,.314
8.03,.373 8.08,.409 8.13,.331 8.18,.384 8.23,.343 8.28,.415
7.02,.346 7.07,.397 7.12,.471 7.17,.369 7.22,.425 7.27,.321 7.32,.382 7.37,.439 7.42,.396 7.47,.356
7.52,.449 7.57,.386 7.62,.338 7.67,.368 7.72,.412 7.77,.304 7.82,.399 7.87,.362 7.92,.332 7.97,.393
8.02,.355 8.07,.298 8.12,.368 8.17,.423 8.22,.322 8.27,.356
7.04,.412 7.09,.317 7.14,.389 7.19,.444 7.24,.357 7.29,.401 7.34,.333 7.39,.376 7.44,.451 7.49,.381
7.54,.343 7.59,.421 7.64,.312 7.69,.384 7.74,.363 7.79,.429 7.84,.329 7.89,.379 7.94,.318 7.99,.364
8.04,.412 8.09,.349 8.14,.315 8.19,.359 8.24,.397 8.29,.299
7.07,.325 7.21,.341 7.36,.303 7.51,.349 7.66,.291 7.81,.339 7.96,.286 8.11,.324 7.14,.287 7.29,.297
7.44,.314 7.59,.283 7.74,.306 7.89,.291 8.04,.271 8.19,.292 7.12,.262 7.42,.257 7.72,.261 8.02,.253
7.60,.405 7.64,.352 7.68,.392 7.72,.331 7.76,.418 7.80,.369 7.84,.343 7.88,.398 7.92,.357 7.96,.312
8.00,.383 8.04,.349 8.08,.402 8.12,.326 8.16,.371 8.20,.338
"""

core_dense = """
3.50,.352 3.61,.418 3.72,.301 3.83,.447 3.94,.389 4.05,.331 4.16,.462 4.27,.372 4.38,.296 4.49,.405
4.60,.357 4.71,.423 4.82,.306 4.93,.452 5.04,.384 5.15,.326 5.26,.457 5.37,.367 5.48,.291 5.59,.400
5.70,.348 5.81,.413 5.92,.297 6.03,.442 6.14,.380 6.25,.322 6.36,.452 6.47,.362 6.58,.287 6.69,.396
6.80,.344 6.91,.409 7.02,.293 7.13,.437 7.24,.376 7.35,.318 7.46,.447 7.57,.358 7.68,.283 7.79,.392
3.53,.431 3.64,.367 3.75,.324 3.86,.398 3.97,.459 4.08,.343 4.19,.412 4.30,.281 4.41,.377 4.52,.436
4.63,.426 4.74,.362 4.85,.319 4.96,.393 5.07,.454 5.18,.338 5.29,.407 5.40,.285 5.51,.372 5.62,.431
5.73,.421 5.84,.358 5.95,.315 6.06,.389 6.17,.449 6.28,.334 6.39,.403 6.50,.279 6.61,.368 6.72,.426
6.83,.417 6.94,.354 7.05,.311 7.16,.385 7.27,.444 7.38,.330 7.49,.399 7.60,.276 7.71,.364 7.82,.421
3.56,.313 3.67,.385 3.78,.442 3.89,.356 4.00,.292 4.11,.421 4.22,.339 4.33,.468 4.44,.402 4.55,.327
4.66,.308 4.77,.380 4.88,.437 4.99,.351 5.10,.288 5.21,.416 5.32,.334 5.43,.463 5.54,.397 5.65,.322
5.76,.304 5.87,.376 5.98,.433 6.09,.347 6.20,.284 6.31,.412 6.42,.330 6.53,.459 6.64,.393 6.75,.318
6.86,.301 6.97,.372 7.08,.429 7.19,.343 7.30,.281 7.41,.408 7.52,.327 7.63,.455 7.74,.389 7.85,.315
3.59,.394 3.70,.348 3.81,.427 3.92,.306 4.03,.371 4.14,.453 4.25,.318 4.36,.388 4.47,.434 4.58,.362
4.69,.389 4.80,.343 4.91,.422 5.02,.301 5.13,.366 5.24,.448 5.35,.313 5.46,.383 5.57,.429 5.68,.357
5.79,.385 5.90,.339 6.01,.418 6.12,.297 6.23,.362 6.34,.444 6.45,.309 6.56,.379 6.67,.425 6.78,.353
6.89,.381 7.00,.335 7.11,.414 7.22,.294 7.33,.358 7.44,.440 7.55,.306 7.66,.375 7.77,.421 7.88,.349
3.55,.372 3.66,.309 3.77,.441 3.88,.398 3.99,.336 4.10,.416 4.21,.288 4.32,.361 4.43,.452 4.54,.327
4.65,.367 4.76,.304 4.87,.436 4.98,.393 5.09,.331 5.20,.411 5.31,.284 5.42,.356 5.53,.447 5.64,.322
5.75,.363 5.86,.300 5.97,.432 6.08,.389 6.19,.327 6.30,.407 6.41,.280 6.52,.352 6.63,.443 6.74,.318
6.85,.359 6.96,.296 7.07,.428 7.18,.385 7.29,.323 7.40,.403 7.51,.277 7.62,.348 7.73,.439 7.84,.314
3.58,.421 3.69,.343 3.80,.386 3.91,.312 4.02,.457 4.13,.368 4.24,.402 4.35,.329 4.46,.384 4.57,.297
4.68,.416 4.79,.338 4.90,.381 5.01,.307 5.12,.452 5.23,.363 5.34,.397 5.45,.324 5.56,.379 5.67,.293
5.78,.412 5.89,.334 6.00,.377 6.11,.303 6.22,.448 6.33,.359 6.44,.393 6.55,.320 6.66,.375 6.77,.289
6.88,.408 6.99,.330 7.10,.373 7.21,.299 7.32,.444 7.43,.355 7.54,.389 7.65,.316 7.76,.371 7.87,.286
"""

core_densest = """
3.52,.346 3.62,.412 3.72,.381 3.82,.309 3.92,.438 4.02,.366 4.12,.392 4.22,.341 4.32,.409 4.42,.377
4.52,.304 4.62,.433 4.72,.361 4.82,.387 4.92,.333 5.02,.398 5.12,.368 5.22,.296 5.32,.424 5.42,.352
5.52,.379 5.62,.329 5.72,.395 5.82,.363 5.92,.291 6.02,.419 6.12,.347 6.22,.374 6.32,.324 6.42,.389
6.52,.358 6.62,.287 6.72,.414 6.82,.343 6.92,.369 7.02,.319 7.12,.385 7.22,.354 7.32,.283 7.42,.409
7.52,.338
3.57,.425 3.67,.332 3.77,.401 3.87,.456 3.97,.353 4.07,.387 4.17,.317 4.27,.421 4.37,.328 4.47,.396
4.57,.451 4.67,.349 4.77,.382 4.87,.313 4.97,.416 5.07,.324 5.17,.391 5.27,.446 5.37,.344 5.47,.377
5.57,.309 5.67,.411 5.77,.319 5.87,.387 5.97,.441 6.07,.339 6.17,.373 6.27,.305 6.37,.406 6.47,.315
6.57,.382 6.67,.436 6.77,.335 6.87,.368 6.97,.301 7.07,.402 7.17,.311 7.27,.378 7.37,.432 7.47,.331
7.57,.364
3.54,.376 3.64,.443 3.74,.314 3.84,.398 3.94,.361 4.04,.427 4.14,.336 4.24,.371 4.34,.438 4.44,.309
4.54,.393 4.64,.356 4.74,.422 4.84,.331 4.94,.366 5.04,.433 5.14,.305 5.24,.389 5.34,.352 5.44,.418
5.54,.327 5.64,.362 5.74,.429 5.84,.301 5.94,.384 6.04,.347 6.14,.413 6.24,.323 6.34,.357 6.44,.424
6.54,.297 6.64,.380 6.74,.343 6.84,.409 6.94,.318 7.04,.353 7.14,.419 7.24,.293 7.34,.376 7.44,.339
7.54,.404
3.59,.402 3.69,.351 3.79,.466 3.89,.328 3.99,.383 4.09,.416 4.19,.371 4.29,.397 4.39,.346 4.49,.461
4.59,.323 4.69,.379 4.79,.411 4.89,.367 4.99,.392 5.09,.342 5.19,.456 5.29,.319 5.39,.374 5.49,.407
5.59,.362 5.69,.388 5.79,.337 5.89,.452 5.99,.314 6.09,.370 6.19,.402 6.29,.358 6.39,.383 6.49,.333
6.59,.447 6.69,.310 6.79,.365 6.89,.398 6.99,.354 7.09,.379 7.19,.329 7.29,.443 7.39,.306 7.49,.361
7.59,.393
3.51,.311 3.61,.389 3.71,.434 3.81,.363 3.91,.405 4.01,.342 4.11,.451 4.21,.306 4.31,.384 4.41,.429
4.51,.358 4.61,.401 4.71,.338 4.81,.446 4.91,.302 5.01,.380 5.11,.425 5.21,.354 5.31,.396 5.41,.334
5.51,.442 5.61,.298 5.71,.375 5.81,.420 5.91,.349 6.01,.392 6.11,.330 6.21,.437 6.31,.294 6.41,.371
6.51,.416 6.61,.345 6.71,.387 6.81,.325 6.91,.433 7.01,.290 7.11,.367 7.21,.411 7.31,.341 7.41,.383
7.51,.321
3.56,.438 3.66,.374 3.76,.322 3.86,.409 3.96,.347 4.06,.395 4.16,.357 4.26,.433 4.36,.369 4.46,.317
4.56,.404 4.66,.343 4.76,.390 4.86,.352 4.96,.429 5.06,.365 5.16,.313 5.26,.400 5.36,.338 5.46,.386
5.56,.348 5.66,.424 5.76,.360 5.86,.308 5.96,.395 6.06,.334 6.16,.381 6.26,.343 6.36,.420 6.46,.356
6.56,.304 6.66,.391 6.76,.329 6.86,.377 6.96,.339 7.06,.415 7.16,.351 7.26,.300 7.36,.386 7.46,.325
7.56,.372
"""

core_upper_edge = """
3.02,.571 3.08,.532 3.14,.594 3.21,.548 3.27,.582 3.33,.519 3.39,.561 3.46,.597 3.52,.538 3.58,.574
3.64,.512 3.71,.556 3.77,.589 3.83,.527 3.89,.568 3.96,.541
4.03,.553 4.09,.588 4.15,.517 4.22,.571 4.28,.534 4.34,.596 4.40,.548 4.47,.507 4.53,.578 4.59,.529
4.65,.561 4.72,.587 4.78,.518 4.84,.552 4.90,.493 4.97,.574
5.03,.541 5.09,.572 5.15,.508 5.22,.556 5.28,.521 5.34,.583 5.40,.532 5.47,.497 5.53,.564 5.59,.514
5.65,.546 5.72,.572 5.78,.503 5.84,.537 5.90,.484 5.97,.559
6.03,.528 6.09,.557 6.15,.496 6.22,.541 6.28,.509 6.34,.569 6.40,.519 6.47,.487 6.53,.551 6.59,.503
6.65,.533 6.72,.559 6.78,.492 6.84,.524 6.90,.478 6.97,.546
7.03,.517 7.09,.546 7.15,.486 7.22,.531 7.28,.499 7.34,.558 7.40,.508 7.47,.477 7.53,.539 7.59,.493
7.65,.522 7.72,.548 7.78,.483 7.84,.514 7.90,.471 7.97,.536
4.06,.512 4.31,.526 4.56,.501 4.81,.538 5.06,.489 5.31,.502 5.56,.491 5.81,.521 6.06,.482 6.31,.497
6.56,.473 6.81,.508 7.06,.469 7.31,.483 7.56,.462 7.81,.497
3.11,.553 3.36,.541 3.61,.528 3.86,.552 3.24,.503 3.49,.519 3.74,.499 3.99,.512
"""

core_left = """
1.02,.613 1.07,.572 1.12,.638 1.17,.597 1.22,.548 1.27,.611 1.32,.567 1.37,.642 1.42,.531 1.47,.587
1.52,.623 1.57,.552 1.62,.604 1.67,.571 1.72,.518 1.77,.594 1.82,.547 1.87,.608 1.92,.506 1.97,.571
2.02,.583 2.07,.524 2.12,.571 2.17,.496 2.22,.552 2.27,.518 2.32,.581 2.37,.474 2.42,.539 2.47,.504
1.04,.558 1.09,.673 1.14,.591 1.19,.629 1.24,.576 1.29,.523 1.34,.602 1.39,.553 1.44,.586 1.49,.562
1.54,.531 1.59,.642 1.64,.527 1.69,.558 1.74,.612 1.79,.488 1.84,.573 1.89,.534 1.94,.589 1.99,.512
2.04,.547 2.09,.593 2.14,.529 2.19,.476 2.24,.582 2.29,.541 2.34,.507 2.39,.556 2.44,.488 2.49,.532
1.06,.634 1.16,.521 1.26,.667 1.36,.578 1.46,.609 1.56,.583 1.66,.496 1.76,.552 1.86,.581 1.96,.539
2.06,.498 2.16,.556 2.26,.489 2.36,.527 2.46,.552
"""

# points flagged as outliers (red)
outlier_x = [7.13, 7.82, 7.92, 14.21]
outlier_y = [1.335, 0.161, 0.154, 0.0]

# fitted trend (blue line)
trend_x = [-0.04, 0.63, 1.42, 2.22, 2.93, 3.39, 4.03, 4.50, 5.26, 6.02, 6.78,
           7.54, 8.30, 9.05, 10.27, 11.18, 12.70, 14.21]
trend_y = [0.741, 0.678, 0.609, 0.543, 0.494, 0.467, 0.430, 0.411, 0.389, 0.368, 0.356,
           0.350, 0.344, 0.335, 0.320, 0.309, 0.291, 0.272]

legend_labels = ["Normal", "Outlier"]
x_ticks = [0, 2, 4, 6, 8, 10, 12, 14]
y_ticks = [0.0, 0.5, 1.0, 1.5]
y_tick_labels = ["0.0", "0.5", "1.0", "1.5"]


def parse(block):
    arr = np.array([[float(v) for v in tok.split(",")] for tok in block.split()])
    return arr[:, 0], arr[:, 1]


blocks = [high_sparse, mid_sparse, right_tail, low_edge, cloud_0_1, cloud_1_2,
          cloud_2_3, cloud_3_4, cloud_4_5, cloud_5_6, cloud_6_7, cloud_7_8, cloud_8_10,
          core_2_4, core_4_5, core_5_7, core_7_8, core_dense, core_densest,
          core_upper_edge, core_left]
parts = [parse(b) for b in blocks]
normal_x = np.concatenate([p[0] for p in parts])
normal_y = np.concatenate([p[1] for p in parts])

# ---------------- figure ----------------
fig = plt.figure(figsize=(12, 9), dpi=100)
ax = fig.add_axes([123 / 1200, 154 / 900, 1014 / 1200, 623 / 900])

ax.scatter(normal_x, normal_y, s=10, marker="s", c="black", linewidths=0, zorder=2)
ax.scatter(outlier_x, outlier_y, s=10, marker="s", c="#FF0000", linewidths=0, zorder=3)
ax.plot(trend_x, trend_y, color="#0000FF", lw=1.4, zorder=4)

all_x = np.concatenate([normal_x, outlier_x])
all_y = np.concatenate([normal_y, outlier_y])
xr = all_x.max() - all_x.min()
yr = all_y.max() - all_y.min()
ax.set_xlim(all_x.min() - 0.04 * xr, all_x.max() + 0.04 * xr)
ax.set_ylim(all_y.min() - 0.04 * yr, all_y.max() + 0.04 * yr)

for sp in ax.spines.values():
    sp.set_linewidth(1.44)
    sp.set_color("black")

ax.set_xticks(x_ticks)
ax.set_xticklabels([str(t) for t in x_ticks])
ax.set_yticks(y_ticks)
ax.set_yticklabels(y_tick_labels, rotation=90, va="center", ha="right")
ax.tick_params(axis="both", direction="out", length=11, width=1.44, labelsize=18,
               colors="black")
ax.tick_params(axis="x", pad=16)
ax.tick_params(axis="y", pad=10)

ax.set_xlabel("Average log-expression", fontsize=18)
ax.set_ylabel("sqrt(sigma)", fontsize=18)
ax.xaxis.set_label_coords(0.5, -0.151)
ax.yaxis.set_label_coords(-0.086, 0.5)

handles = [Line2D([], [], ls="none", marker="o", ms=8, mfc="black", mec="black"),
           Line2D([], [], ls="none", marker="o", ms=8, mfc="#FF0000", mec="#FF0000")]
leg = ax.legend(handles, legend_labels, loc="upper right", bbox_to_anchor=(1, 1),
                borderaxespad=0, frameon=True, fancybox=False, edgecolor="black",
                framealpha=1, fontsize=18, borderpad=0.66, handlelength=0.44,
                handletextpad=0.6, handleheight=1.2, labelspacing=0.12, numpoints=1)
leg.get_frame().set_linewidth(1.44)
leg.set_zorder(10)

fig.savefig("out.png", dpi=100, facecolor="white")
